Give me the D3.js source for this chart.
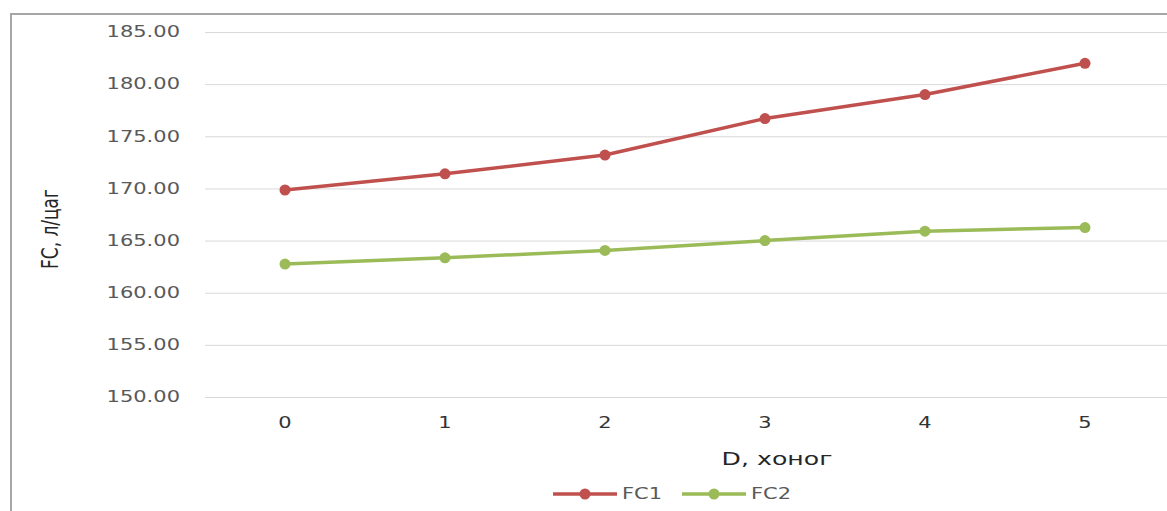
<!DOCTYPE html>
<html>
<head>
<meta charset="utf-8">
<script src="https://cdn.jsdelivr.net/npm/d3@7/dist/d3.min.js"></script>
<style>
  html, body { margin: 0; padding: 0; background: #fff; }
  svg { display: block; font-family: "DejaVu Sans", sans-serif; }
</style>
</head>
<body>
<svg id="chart" width="1167" height="511"></svg>
<script>
// Days (x categories)
const days = ["0", "1", "2", "3", "4", "5"];
// Fuel consumption series, l/h
const fc1 = [169.85, 171.4, 173.2, 176.7, 179.0, 182.0];
const fc2 = [162.75, 163.35, 164.05, 165.0, 165.9, 166.25];
const seriesNames = ["FC1", "FC2"];
const seriesColors = ["#C0504D", "#9BBB59"];
// Y tick values
const yTicks = [150, 155, 160, 165, 170, 175, 180, 185];

const xTitle = "D, хоног";
const yTitle = "FC, л/цаг";

// Text is drawn horizontally widened
const SX = 1.4;

const svg = d3.select("#chart");
const plot = { left: 205, right: 1165, top: 32, bottom: 397 };

const x = d3.scaleBand().domain(days).range([plot.left, plot.right]);
const y = d3.scaleLinear().domain([150, 185]).range([plot.bottom, plot.top]);
const cx = d => x(d) + x.bandwidth() / 2;

// Outer frame (top and left edges)
svg.append("path")
  .attr("d", "M11,511 L11,14 L1167,14")
  .attr("fill", "none")
  .attr("stroke", "#a6a6a6")
  .attr("stroke-width", 2);

// Y axis with gridlines
const yAxis = svg.append("g")
  .attr("transform", `translate(${plot.left},0)`)
  .call(d3.axisLeft(y)
    .tickValues(yTicks)
    .tickFormat(d3.format(".2f"))
    .tickSizeInner(-(1167 - plot.left))
    .tickSizeOuter(0)
    .tickPadding(25));
yAxis.select(".domain").remove();
yAxis.selectAll(".tick line").attr("stroke", "#d9d9d9").attr("stroke-width", 1);
yAxis.selectAll(".tick text")
  .attr("x", -25 / SX)
  .attr("transform", `scale(${SX},1)`)
  .attr("fill", "#595959")
  .style("font-size", "15px")
  .style("font-family", "DejaVu Sans, sans-serif");

// X axis labels
const xAxis = svg.append("g")
  .attr("transform", `translate(0,${plot.bottom})`)
  .call(d3.axisBottom(x).tickSize(0).tickPadding(20));
xAxis.select(".domain").remove();
xAxis.selectAll(".tick text")
  .attr("dy", "0.71em")
  .attr("transform", `scale(${SX},1)`)
  .attr("fill", "#333333")
  .style("font-size", "15px")
  .style("font-family", "DejaVu Sans, sans-serif");

// Axis titles
svg.append("text")
  .attr("transform", `translate(777,465) scale(${SX},1)`)
  .attr("text-anchor", "middle")
  .attr("fill", "#262626")
  .style("font-size", "18px")
  .text(xTitle);

svg.append("text")
  .attr("transform", `translate(58,229) scale(${SX},1) rotate(-90)`)
  .attr("text-anchor", "middle")
  .attr("fill", "#262626")
  .style("font-size", "17px")
  .text(yTitle);

// Series lines and markers
const line = d3.line().x((v, i) => cx(days[i])).y(v => y(v));
[fc1, fc2].forEach((vals, s) => {
  svg.append("path")
    .datum(vals)
    .attr("d", line)
    .attr("fill", "none")
    .attr("stroke", seriesColors[s])
    .attr("stroke-width", 3.5)
    .attr("stroke-linejoin", "round");
  svg.append("g").selectAll("circle")
    .data(vals)
    .join("circle")
    .attr("cx", (v, i) => cx(days[i]))
    .attr("cy", v => y(v))
    .attr("r", 5.5)
    .attr("fill", seriesColors[s]);
});

// Legend
const legendX = [553, 682];
const legendY = 494;
seriesNames.forEach((name, s) => {
  const g = svg.append("g").attr("transform", `translate(${legendX[s]},${legendY})`);
  g.append("line").attr("x1", 0).attr("x2", 64).attr("y1", 0).attr("y2", 0)
    .attr("stroke", seriesColors[s]).attr("stroke-width", 3.5);
  g.append("circle").attr("cx", 32).attr("cy", 0).attr("r", 5.5).attr("fill", seriesColors[s]);
  g.append("text")
    .attr("transform", `translate(69,0) scale(${SX},1)`)
    .attr("dy", "0.36em")
    .attr("fill", "#595959")
    .style("font-size", "15px")
    .text(name);
});
</script>
</body>
</html>
